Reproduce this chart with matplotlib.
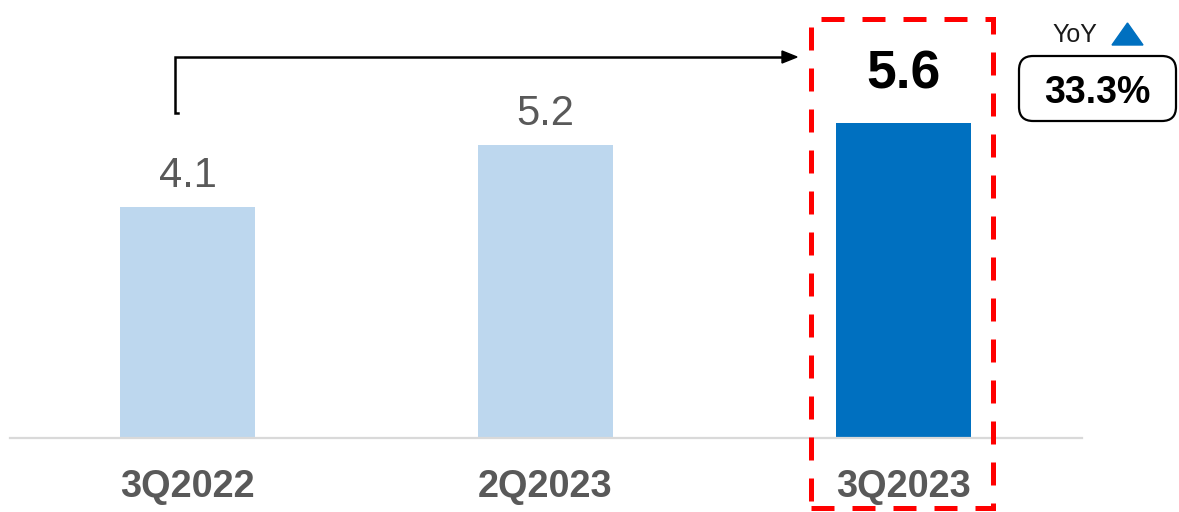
import matplotlib
matplotlib.use("Agg")
import matplotlib.pyplot as plt
from matplotlib.patches import Rectangle, FancyBboxPatch, Polygon
from matplotlib.transforms import offset_copy, blended_transform_factory

plt.rcParams['font.family'] = ['Liberation Sans', 'DejaVu Sans']

periods = ["3Q2022", "2Q2023", "3Q2023"]
revenue = [4.1, 5.2, 5.6]
bar_colors = ["#BDD7EE", "#BDD7EE", "#0070C0"]
yoy_label = "YoY"
yoy_change = "33.3%"

W, H = 1179, 512
fig = plt.figure(figsize=(W / 100, H / 100), dpi=100)


def fx(x):
    return x / W


def fy(y):
    return 1 - y / H


ax = fig.add_axes([fx(10), fy(438), fx(1082) - fx(10), fy(0) - fy(438)])
x = list(range(len(periods)))
ax.bar(x, revenue, width=0.377, color=bar_colors, zorder=2)
ax.set_xlim(-0.496, 2.499)
ax.set_ylim(0, 7.78)
for s in ["top", "right", "left"]:
    ax.spines[s].set_visible(False)
ax.spines["bottom"].set_color("#D9D9D9")
ax.spines["bottom"].set_linewidth(1.6)
ax.set_yticks([])
ax.set_xticks([])

# value labels above bars
for i, v in enumerate(revenue):
    last = i == len(revenue) - 1
    tr = offset_copy(ax.transData, fig=fig, x=0, y=(25 if last else 14.5), units="points")
    ax.text(i, v, f"{v:.1f}", transform=tr, ha="center", va="baseline",
            fontsize=38.5 if last else 30, fontweight="bold" if last else "normal",
            color="black" if last else "#595959")

# category labels under the axis
btr = blended_transform_factory(ax.transData, ax.transAxes)
btr = offset_copy(btr, fig=fig, x=0, y=-59 * 0.72, units="points")
for i, p in enumerate(periods):
    ax.text(i, 0, p, transform=btr, ha="center", va="baseline",
            fontsize=27.3, fontweight="bold", color="#595959", clip_on=False)

# highlight frame around the latest quarter
frame = Rectangle((fx(810.5), fy(508)), fx(993) - fx(810.5), fy(18.5) - fy(508),
                  transform=fig.transFigure, fill=False, edgecolor="#FF0000",
                  linewidth=3.6, linestyle=(0, (4.6, 3.6)), zorder=5)
fig.add_artist(frame)

# connector from first bar to the highlighted quarter
fig.add_artist(plt.Line2D([fx(178), fx(175), fx(175), fx(785)],
                          [fy(113), fy(113), fy(57), fy(57)],
                          transform=fig.transFigure, color="black", linewidth=1.8,
                          solid_joinstyle="miter"))
fig.add_artist(Polygon([(fx(782), fy(51)), (fx(797), fy(57)), (fx(782), fy(63))],
                       closed=True, transform=fig.transFigure, color="black"))

# YoY badge
fig.text(fx(1075), fy(42.5), yoy_label, ha="center", va="baseline", fontsize=18, color="#1a1a1a")
fig.add_artist(Polygon([(fx(1112), fy(45)), (fx(1127.5), fy(23)), (fx(1143), fy(45))],
                       closed=True, transform=fig.transFigure, color="#0070C0"))
badge = FancyBboxPatch((fx(1019), fy(121)), fx(1176) - fx(1019), fy(56) - fy(121),
                       boxstyle="round,pad=0,rounding_size=0.012",
                       transform=fig.transFigure, facecolor="white", edgecolor="black",
                       linewidth=1.6, mutation_aspect=W / H)
fig.add_artist(badge)
fig.text(fx(1097.5), fy(103), yoy_change, ha="center", va="baseline",
         fontsize=27, fontweight="bold", color="black")

fig.savefig("out.png", dpi=100)
